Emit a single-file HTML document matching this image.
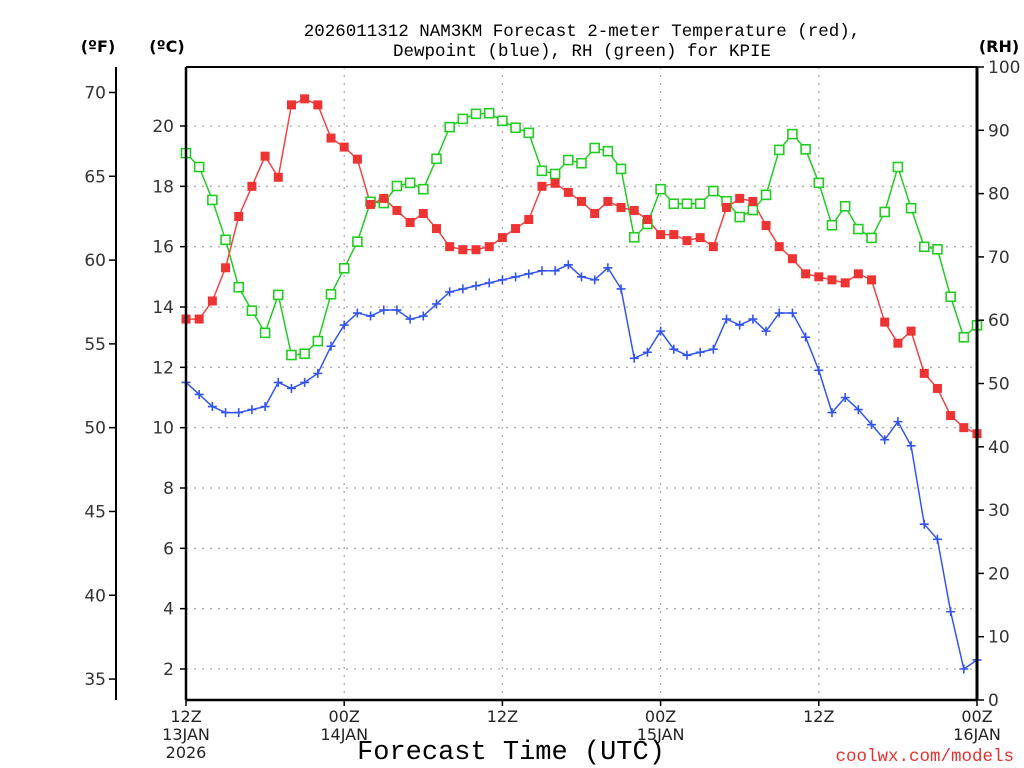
<!DOCTYPE html>
<html><head><meta charset="utf-8"><style>
html,body{margin:0;padding:0;background:#fff;}
svg{display:block;font-family:"DejaVu Sans","Liberation Sans",sans-serif;}
.mono{font-family:"Liberation Mono","DejaVu Sans Mono",monospace;}
</style></head><body>
<svg id="chart" width="1024" height="768" viewBox="0 0 1024 768" xmlns="http://www.w3.org/2000/svg">
<rect width="1024" height="768" fill="#fff"/>
<g id="grid"></g>
<g id="series"></g>
<g id="axes"></g>
<text class="mono" x="582" y="36" font-size="17.5" text-anchor="middle" fill="#000">2026011312 NAM3KM Forecast 2-meter Temperature (red),</text>
<text class="mono" x="582" y="56" font-size="17.5" text-anchor="middle" fill="#000">Dewpoint (blue), RH (green) for KPIE</text>
<text x="98" y="52" font-size="16" font-weight="bold" text-anchor="middle">(ºF)</text>
<text x="167" y="52" font-size="16" font-weight="bold" text-anchor="middle">(ºC)</text>
<text x="999" y="52" font-size="16" font-weight="bold" text-anchor="middle">(RH)</text>
<text class="mono" x="511" y="759" font-size="27" text-anchor="middle" fill="#000">Forecast Time (UTC)</text>
<text class="mono" x="1014" y="761" font-size="17.5" text-anchor="end" fill="#e83030">coolwx.com/models</text>
</svg>
<script>
const hours = Array.from({length:61},(_,i)=>i);
const tempC = [13.6,13.6,14.2,15.3,17.0,18.0,19.0,18.3,20.7,20.9,20.7,19.6,19.3,18.9,17.4,17.6,17.2,16.8,17.1,16.6,16.0,15.9,15.9,16.0,16.3,16.6,16.9,18.0,18.1,17.8,17.5,17.1,17.5,17.3,17.2,16.9,16.4,16.4,16.2,16.3,16.0,17.3,17.6,17.5,16.7,16.0,15.6,15.1,15.0,14.9,14.8,15.1,14.9,13.5,12.8,13.2,11.8,11.3,10.4,10.0,9.8];
const dewC = [11.5,11.1,10.7,10.5,10.5,10.6,10.7,11.5,11.3,11.5,11.8,12.7,13.4,13.8,13.7,13.9,13.9,13.6,13.7,14.1,14.5,14.6,14.7,14.8,14.9,15.0,15.1,15.2,15.2,15.4,15.0,14.9,15.3,14.6,12.3,12.5,13.2,12.6,12.4,12.5,12.6,13.6,13.4,13.6,13.2,13.8,13.8,13.0,11.9,10.5,11.0,10.6,10.1,9.6,10.2,9.4,6.8,6.3,3.9,2.0,2.3];
const rh = [86.4,84.2,79.0,72.7,65.2,61.5,58.0,64.0,54.5,54.7,56.7,64.1,68.2,72.4,78.7,78.5,81.2,81.7,80.7,85.5,90.5,91.8,92.6,92.7,91.5,90.4,89.6,83.6,83.1,85.3,84.8,87.2,86.7,83.9,73.1,75.2,80.7,78.4,78.4,78.4,80.4,78.8,76.3,77.4,79.8,86.9,89.4,87.0,81.7,75.0,78.0,74.4,73.0,77.1,84.2,77.7,71.6,71.2,63.7,57.3,59.2];
const cTicks = [2,4,6,8,10,12,14,16,18,20];
const fTicks = [35,40,45,50,55,60,65,70];
const rhTicks = [0,10,20,30,40,50,60,70,80,90,100];
const xTickHours = [0,12,24,36,48,60];
const xTickLabels = [["12Z","13JAN","2026"],["00Z","14JAN"],["12Z"],["00Z","15JAN"],["12Z"],["00Z","16JAN"]];

const L=186,R=977,T=67,B=700;
const xs=h=>L+(R-L)*h/60;
const yC=c=>669-(c-2)*(543/18);
const yF=f=>yC((f-32)*5/9);
const yRH=v=>B-(B-T)*v/100;
const NS="http://www.w3.org/2000/svg";
function mk(tag,attrs,parent){const e=document.createElementNS(NS,tag);for(const k in attrs)e.setAttribute(k,attrs[k]);parent.appendChild(e);return e;}
const grid=document.getElementById('grid'),axes=document.getElementById('axes'),ser=document.getElementById('series');

cTicks.forEach(c=>{const g=mk('line',{x1:L,x2:R,y1:yC(c),y2:yC(c),stroke:'#aaa','stroke-width':1.3,'stroke-dasharray':'2 6'},grid);

});
xTickHours.slice(1,-1).forEach(h=>{const g=mk('line',{x1:xs(h),x2:xs(h),y1:T,y2:B,stroke:'#aaa','stroke-width':1.3,'stroke-dasharray':'2 6'},grid);

});

mk('line',{x1:L,x2:R,y1:T,y2:T,stroke:'#000','stroke-width':2},axes);
mk('line',{x1:L,x2:R,y1:B,y2:B,stroke:'#000','stroke-width':2.5},axes);
mk('line',{x1:L,x2:L,y1:T,y2:B,stroke:'#000','stroke-width':2.5},axes);
mk('line',{x1:R,x2:R,y1:T,y2:B,stroke:'#000','stroke-width':3},axes);
mk('line',{x1:116,x2:116,y1:T,y2:B,stroke:'#000','stroke-width':2},axes);

cTicks.forEach(c=>{mk('line',{x1:L-6,x2:L,y1:yC(c),y2:yC(c),stroke:'#000','stroke-width':1.5},axes);
const t=mk('text',{x:L-12,y:yC(c)+6,'font-size':17,'text-anchor':'end',fill:'#333'},axes);t.textContent=c;

});
fTicks.forEach(f=>{mk('line',{x1:109,x2:116,y1:yF(f),y2:yF(f),stroke:'#000','stroke-width':1.5},axes);
const t=mk('text',{x:106,y:yF(f)+6,'font-size':17,'text-anchor':'end',fill:'#333'},axes);t.textContent=f;

});
rhTicks.forEach(v=>{mk('line',{x1:R,x2:R+7,y1:yRH(v),y2:yRH(v),stroke:'#000','stroke-width':1.5},axes);
const t=mk('text',{x:R+11,y:yRH(v)+6,'font-size':17,'text-anchor':'start',fill:'#333'},axes);t.textContent=v;

});
xTickHours.forEach((h,i)=>{mk('line',{x1:xs(h),x2:xs(h),y1:B,y2:B+6,stroke:'#000','stroke-width':1.5},axes);
xTickLabels[i].forEach((s,j)=>{const t=mk('text',{x:xs(h),y:B+22+j*18,'font-size':16,'text-anchor':'middle',fill:'#222'},axes);t.textContent=s;

});});

function line(vals,yf,color,name){const p=mk('polyline',{points:vals.map((v,i)=>xs(hours[i])+','+yf(v)).join(' '),fill:'none',stroke:color,'stroke-width':1.5},ser);

}
line(rh,yRH,'#22cc22','rh-line');
line(tempC,yC,'#ee4444','temperature-line');
line(dewC,yC,'#3355ee','dewpoint-line');
rh.forEach((v,i)=>{const r=mk('rect',{x:xs(hours[i])-4.5,y:yRH(v)-4.5,width:9,height:9,fill:'#fff',stroke:'#22cc22','stroke-width':1.6},ser);

});
tempC.forEach((v,i)=>{const r=mk('rect',{x:xs(hours[i])-4.5,y:yC(v)-4.5,width:9,height:9,fill:'#ee3333'},ser);

});
dewC.forEach((v,i)=>{const x=xs(hours[i]),y=yC(v);const p=mk('path',{d:`M${x-4.5},${y}H${x+4.5}M${x},${y-4.5}V${y+4.5}`,stroke:'#3355ee','stroke-width':1.6},ser);

});
</script>
</body></html>
